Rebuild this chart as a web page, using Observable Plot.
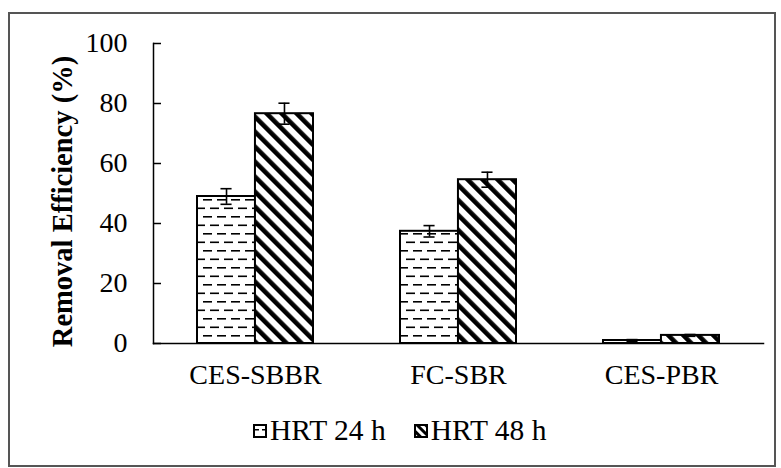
<!DOCTYPE html>
<html>
<head>
<meta charset="utf-8">
<script src="https://cdn.jsdelivr.net/npm/d3@7"></script>
<script src="https://cdn.jsdelivr.net/npm/@observablehq/plot@0.6"></script>
<style>
  html, body { margin: 0; padding: 0; background: #fff; }
  #wrap { position: relative; width: 781px; height: 468px; overflow: hidden; font-family: "Liberation Serif", "Times New Roman", Tinos, "DejaVu Serif", serif; }
  #border { position: absolute; left: 8px; top: 12px; width: 764px; height: 451px; border: 2px solid #555; box-sizing: content-box; }
  #legend { position: absolute; left: 253px; top: 414px; display: flex; align-items: center; font-size: 29.5px; color: #000; white-space: nowrap; }
  .item { display: flex; align-items: center; margin-right: 28px; }
  #chart { position: absolute; left: 0; top: 0; }
  #chart svg text { font-family: "Liberation Serif", "Times New Roman", Tinos, "DejaVu Serif", serif; }
</style>
</head>
<body>
<svg width="0" height="0" style="position:absolute">
  <defs>
    <pattern id="dash" patternUnits="userSpaceOnUse" width="14" height="17">
      <rect width="14" height="17" fill="#fff"/>
      <rect x="0" y="3.5" width="9" height="1.6" fill="#000"/>
      <rect x="7" y="12" width="9" height="1.6" fill="#000"/>
      <rect x="-7" y="12" width="9" height="1.6" fill="#000"/>
    </pattern>
    <pattern id="diag" patternUnits="userSpaceOnUse" width="10.6" height="10.6" patternTransform="rotate(-45)">
      <rect width="10.6" height="10.6" fill="#fff"/>
      <rect x="0" y="0" width="4.6" height="10.6" fill="#000"/>
    </pattern>
    <pattern id="dashS" patternUnits="userSpaceOnUse" width="8" height="8">
      <rect width="8" height="8" fill="#fff"/>
      <rect x="1" y="5" width="5" height="1.5" fill="#000"/>
    </pattern>
    <pattern id="diagS" patternUnits="userSpaceOnUse" width="6" height="6" patternTransform="rotate(-45)">
      <rect width="6" height="6" fill="#fff"/>
      <rect x="0" y="0" width="3" height="6" fill="#000"/>
    </pattern>
  </defs>
</svg>
<div id="wrap">
  <div id="border"></div>
  <div id="chart"></div>
  <div id="legend"></div>
</div>
<script>
const categories = ["CES-SBBR", "FC-SBR", "CES-PBR"];
const seriesNames = ["HRT 24 h", "HRT 48 h"];
const hrt24 = [49.0, 37.4, 1.0];
const hrt24Err = [2.6, 1.9, 0.3];
const hrt48 = [76.6, 54.6, 2.7];
const hrt48Err = [3.5, 2.5, 0.3];
const yTicks = [0, 20, 40, 60, 80, 100];
const yTitle = "Removal Efficiency (%)";

const W = 781, H = 468, ml = 153, mr = 18, mt = 43, mb = 125;
const pad = 0.43;
const step = (W - ml - mr) / 3;
const bw = step * (1 - pad);
const capW = 11;

const d24 = categories.map((c, i) => ({cat: c, v: hrt24[i], e: hrt24Err[i]}));
const d48 = categories.map((c, i) => ({cat: c, v: hrt48[i], e: hrt48Err[i]}));

const font = "Liberation Serif, Times New Roman, Tinos, DejaVu Serif, serif";

const chart = Plot.plot({
  width: W, height: H,
  marginLeft: ml, marginRight: mr, marginTop: mt, marginBottom: mb,
  style: {fontFamily: font, fontSize: "28px", color: "#000", background: "transparent"},
  x: {domain: categories, paddingInner: pad, paddingOuter: pad / 2, axis: null},
  y: {domain: [0, 100], axis: null},
  marks: [
    Plot.barY(d24, {x: "cat", y: "v", fill: "url(#dash)", stroke: "#000", strokeWidth: 2, insetRight: bw / 2}),
    Plot.barY(d48, {x: "cat", y: "v", fill: "url(#diag)", stroke: "#000", strokeWidth: 2, insetLeft: bw / 2}),
    Plot.ruleX(d24, {x: "cat", y1: d => d.v - d.e, y2: d => d.v + d.e, dx: -bw / 4, stroke: "#000", strokeWidth: 1.6}),
    Plot.ruleX(d48, {x: "cat", y1: d => d.v - d.e, y2: d => d.v + d.e, dx: bw / 4, stroke: "#000", strokeWidth: 1.6}),
    Plot.tickY(d24, {x: "cat", y: d => d.v + d.e, insetLeft: bw / 4 - capW / 2, insetRight: 3 * bw / 4 - capW / 2, stroke: "#000", strokeWidth: 1.6}),
    Plot.tickY(d24, {x: "cat", y: d => d.v - d.e, insetLeft: bw / 4 - capW / 2, insetRight: 3 * bw / 4 - capW / 2, stroke: "#000", strokeWidth: 1.6}),
    Plot.tickY(d48, {x: "cat", y: d => d.v + d.e, insetLeft: 3 * bw / 4 - capW / 2, insetRight: bw / 4 - capW / 2, stroke: "#000", strokeWidth: 1.6}),
    Plot.tickY(d48, {x: "cat", y: d => d.v - d.e, insetLeft: 3 * bw / 4 - capW / 2, insetRight: bw / 4 - capW / 2, stroke: "#000", strokeWidth: 1.6}),
    Plot.frame({anchor: "bottom", stroke: "#000", strokeWidth: 1.5}),
    Plot.frame({anchor: "left", stroke: "#000", strokeWidth: 1.5}),
    Plot.axisY({ticks: yTicks, text: null, label: null, tickSize: 8, dx: 8, strokeWidth: 1.5}),
    Plot.axisY({ticks: yTicks, tickSize: 0, tickPadding: 26, fontSize: 28, label: null}),
    Plot.axisX({tickSize: 0, tickPadding: 21, fontSize: 28, label: null}),
    Plot.text([yTitle], {text: d => d, frameAnchor: "left", dx: -91, dy: 8, rotate: -90, textAnchor: "middle", lineAnchor: "middle", fontSize: 28.5, fontWeight: "bold", fill: "#000"})
  ]
});
document.getElementById("chart").appendChild(chart);

const legend = document.getElementById("legend");
const swatchFills = ["url(#dashS)", "url(#diagS)"];
seriesNames.forEach((name, i) => {
  const item = document.createElement("div");
  item.className = "item";
  const sw = document.createElementNS("http://www.w3.org/2000/svg", "svg");
  sw.setAttribute("width", 14); sw.setAttribute("height", 14);
  sw.style.marginRight = "3px";
  const r = document.createElementNS("http://www.w3.org/2000/svg", "rect");
  r.setAttribute("x", 1); r.setAttribute("y", 1); r.setAttribute("width", 12); r.setAttribute("height", 12);
  r.setAttribute("fill", swatchFills[i]); r.setAttribute("stroke", "#000"); r.setAttribute("stroke-width", 2);
  sw.appendChild(r);
  const t = document.createElement("span");
  t.textContent = name;
  item.appendChild(sw); item.appendChild(t);
  legend.appendChild(item);
});
</script>
</body>
</html>
